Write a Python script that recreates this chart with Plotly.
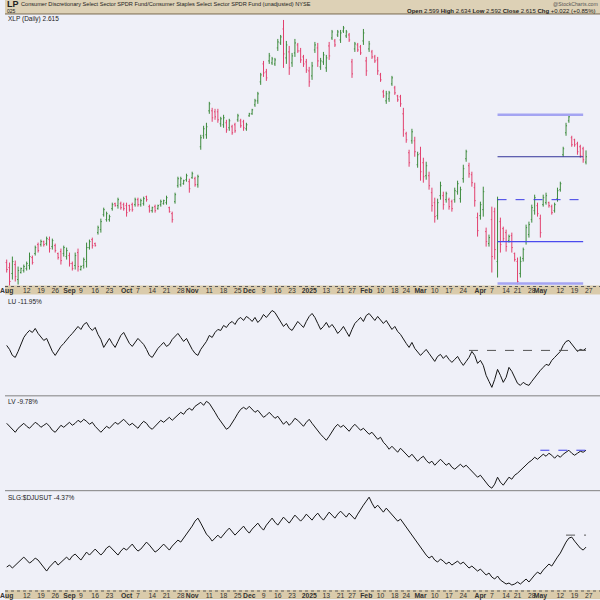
import pandas as pd
import plotly.graph_objects as go

# ---------------- data ----------------
holidays = ["2024-09-02", "2024-11-28", "2024-12-25", "2025-01-01", "2025-01-09",
            "2025-01-20", "2025-02-17", "2025-04-18"]
trading_days = [d.strftime("%Y-%m-%d") for d in pd.bdate_range("2024-08-01", "2025-05-23")
                if d.strftime("%Y-%m-%d") not in holidays]

opens = [2.297, 2.282, 2.264, 2.291, 2.246, 2.267, 2.273, 2.279, 2.288, 2.312,
         2.324, 2.351, 2.351, 2.360, 2.354, 2.366, 2.345, 2.348, 2.324, 2.330,
         2.324, 2.315, 2.318, 2.294, 2.288, 2.327, 2.276, 2.288, 2.300, 2.342,
         2.366, 2.354, 2.387, 2.396, 2.441, 2.426, 2.426, 2.459, 2.474, 2.468,
         2.474, 2.471, 2.468, 2.468, 2.471, 2.471, 2.486, 2.471, 2.474, 2.495,
         2.465, 2.453, 2.465, 2.459, 2.471, 2.474, 2.477, 2.462, 2.444, 2.480,
         2.528, 2.531, 2.534, 2.546, 2.540, 2.552, 2.549, 2.531, 2.645, 2.678,
         2.681, 2.753, 2.753, 2.750, 2.750, 2.714, 2.711, 2.717, 2.702, 2.705,
         2.711, 2.726, 2.723, 2.720, 2.699, 2.738, 2.744, 2.771, 2.783, 2.840,
         2.894, 2.870, 2.903, 2.897, 2.894, 2.942, 2.957, 2.999, 2.912, 2.930,
         2.897, 2.927, 2.951, 2.933, 2.915, 2.900, 2.873, 2.858, 2.936, 2.942,
         2.885, 2.900, 2.882, 2.948, 2.972, 2.963, 2.981, 2.966, 2.993, 2.978,
         2.981, 2.900, 2.939, 2.951, 2.945, 2.963, 2.903, 2.939, 2.930, 2.915,
         2.906, 2.861, 2.810, 2.783, 2.789, 2.834, 2.822, 2.798, 2.795, 2.744,
         2.684, 2.627, 2.663, 2.663, 2.591, 2.624, 2.597, 2.558, 2.558, 2.507,
         2.477, 2.438, 2.498, 2.498, 2.486, 2.486, 2.480, 2.486, 2.510, 2.489,
         2.549, 2.609, 2.588, 2.561, 2.522, 2.432, 2.438, 2.456, 2.390, 2.354,
         2.426, 2.450, 2.300, 2.420, 2.399, 2.387, 2.363, 2.378, 2.324, 2.300,
         2.264, 2.309, 2.360, 2.381, 2.426, 2.453, 2.468, 2.429, 2.471, 2.477,
         2.477, 2.465, 2.453, 2.489, 2.516, 2.621, 2.687, 2.723, 2.672, 2.666,
         2.654, 2.645, 2.639, 2.599]
highs = [2.306, 2.297, 2.315, 2.303, 2.285, 2.282, 2.291, 2.300, 2.327, 2.318,
         2.348, 2.357, 2.366, 2.363, 2.375, 2.375, 2.369, 2.354, 2.327, 2.339,
         2.348, 2.342, 2.327, 2.300, 2.327, 2.339, 2.288, 2.312, 2.357, 2.366,
         2.372, 2.357, 2.408, 2.429, 2.462, 2.450, 2.441, 2.477, 2.477, 2.492,
         2.480, 2.477, 2.477, 2.471, 2.477, 2.492, 2.492, 2.489, 2.495, 2.498,
         2.471, 2.465, 2.471, 2.471, 2.486, 2.486, 2.498, 2.465, 2.450, 2.507,
         2.555, 2.555, 2.546, 2.564, 2.549, 2.570, 2.555, 2.561, 2.681, 2.708,
         2.717, 2.780, 2.762, 2.759, 2.759, 2.735, 2.741, 2.726, 2.729, 2.711,
         2.717, 2.744, 2.729, 2.726, 2.717, 2.747, 2.759, 2.789, 2.810, 2.867,
         2.903, 2.879, 2.927, 2.915, 2.912, 2.969, 2.981, 3.026, 2.963, 2.948,
         2.927, 2.969, 2.957, 2.942, 2.921, 2.909, 2.885, 2.900, 2.960, 2.957,
         2.912, 2.930, 2.921, 2.960, 2.996, 2.969, 2.996, 2.996, 3.008, 2.996,
         2.987, 2.909, 2.960, 2.957, 2.951, 2.999, 2.915, 2.963, 2.936, 2.921,
         2.915, 2.867, 2.816, 2.813, 2.813, 2.858, 2.828, 2.801, 2.801, 2.762,
         2.690, 2.636, 2.699, 2.675, 2.630, 2.645, 2.612, 2.600, 2.570, 2.522,
         2.492, 2.489, 2.540, 2.510, 2.510, 2.492, 2.486, 2.522, 2.543, 2.525,
         2.591, 2.636, 2.597, 2.570, 2.537, 2.447, 2.480, 2.525, 2.402, 2.381,
         2.465, 2.462, 2.495, 2.432, 2.405, 2.396, 2.381, 2.387, 2.327, 2.312,
         2.315, 2.342, 2.411, 2.420, 2.471, 2.501, 2.477, 2.441, 2.501, 2.507,
         2.480, 2.471, 2.477, 2.522, 2.540, 2.645, 2.717, 2.741, 2.678, 2.669,
         2.660, 2.651, 2.645, 2.634]
lows = [2.267, 2.222, 2.246, 2.240, 2.231, 2.264, 2.267, 2.273, 2.276, 2.291,
        2.318, 2.327, 2.345, 2.345, 2.348, 2.327, 2.336, 2.327, 2.306, 2.291,
        2.315, 2.306, 2.285, 2.273, 2.276, 2.270, 2.273, 2.279, 2.282, 2.336,
        2.339, 2.345, 2.381, 2.387, 2.435, 2.420, 2.420, 2.453, 2.465, 2.459,
        2.456, 2.453, 2.435, 2.450, 2.450, 2.465, 2.465, 2.465, 2.468, 2.480,
        2.447, 2.447, 2.447, 2.456, 2.465, 2.471, 2.471, 2.447, 2.417, 2.474,
        2.522, 2.525, 2.531, 2.540, 2.507, 2.549, 2.525, 2.522, 2.636, 2.669,
        2.669, 2.744, 2.720, 2.726, 2.717, 2.705, 2.702, 2.687, 2.693, 2.681,
        2.687, 2.720, 2.702, 2.693, 2.693, 2.735, 2.741, 2.765, 2.774, 2.831,
        2.855, 2.843, 2.894, 2.891, 2.888, 2.933, 2.951, 2.882, 2.894, 2.861,
        2.885, 2.915, 2.927, 2.897, 2.885, 2.867, 2.825, 2.846, 2.927, 2.885,
        2.876, 2.891, 2.870, 2.906, 2.966, 2.945, 2.975, 2.957, 2.987, 2.972,
        2.960, 2.852, 2.930, 2.930, 2.921, 2.951, 2.858, 2.930, 2.909, 2.897,
        2.861, 2.840, 2.792, 2.774, 2.780, 2.828, 2.801, 2.780, 2.765, 2.675,
        2.657, 2.585, 2.654, 2.615, 2.582, 2.543, 2.537, 2.546, 2.516, 2.450,
        2.417, 2.426, 2.486, 2.456, 2.477, 2.456, 2.450, 2.477, 2.501, 2.477,
        2.537, 2.600, 2.552, 2.525, 2.465, 2.375, 2.426, 2.435, 2.345, 2.345,
        2.267, 2.306, 2.252, 2.327, 2.360, 2.330, 2.357, 2.327, 2.300, 2.231,
        2.252, 2.300, 2.351, 2.372, 2.417, 2.441, 2.435, 2.372, 2.465, 2.471,
        2.462, 2.441, 2.447, 2.480, 2.510, 2.615, 2.678, 2.717, 2.645, 2.645,
        2.621, 2.612, 2.597, 2.592]
closes = [2.276, 2.240, 2.300, 2.255, 2.273, 2.279, 2.285, 2.294, 2.315, 2.297,
          2.342, 2.333, 2.360, 2.351, 2.369, 2.339, 2.363, 2.333, 2.312, 2.303,
          2.342, 2.333, 2.294, 2.279, 2.318, 2.285, 2.285, 2.306, 2.342, 2.360,
          2.348, 2.348, 2.402, 2.420, 2.456, 2.444, 2.435, 2.471, 2.468, 2.486,
          2.462, 2.459, 2.447, 2.456, 2.456, 2.486, 2.471, 2.483, 2.489, 2.486,
          2.453, 2.462, 2.453, 2.468, 2.480, 2.483, 2.492, 2.450, 2.426, 2.501,
          2.549, 2.549, 2.543, 2.558, 2.519, 2.564, 2.531, 2.555, 2.672, 2.699,
          2.705, 2.774, 2.732, 2.735, 2.726, 2.729, 2.732, 2.696, 2.723, 2.687,
          2.693, 2.738, 2.708, 2.702, 2.711, 2.744, 2.756, 2.783, 2.804, 2.861,
          2.867, 2.852, 2.918, 2.909, 2.906, 2.960, 2.975, 2.924, 2.951, 2.882,
          2.918, 2.957, 2.933, 2.906, 2.894, 2.876, 2.840, 2.888, 2.951, 2.903,
          2.903, 2.921, 2.912, 2.918, 2.990, 2.951, 2.990, 2.987, 3.002, 2.990,
          2.966, 2.864, 2.954, 2.936, 2.927, 2.987, 2.873, 2.954, 2.915, 2.903,
          2.873, 2.846, 2.798, 2.804, 2.807, 2.852, 2.807, 2.786, 2.774, 2.696,
          2.666, 2.597, 2.690, 2.630, 2.621, 2.570, 2.555, 2.588, 2.528, 2.468,
          2.435, 2.477, 2.528, 2.471, 2.504, 2.465, 2.459, 2.513, 2.534, 2.516,
          2.579, 2.630, 2.564, 2.537, 2.483, 2.393, 2.471, 2.510, 2.360, 2.372,
          2.315, 2.336, 2.486, 2.351, 2.369, 2.345, 2.375, 2.342, 2.306, 2.240,
          2.300, 2.336, 2.402, 2.411, 2.462, 2.492, 2.444, 2.387, 2.492, 2.498,
          2.468, 2.447, 2.471, 2.513, 2.534, 2.639, 2.708, 2.735, 2.651, 2.651,
          2.630, 2.618, 2.606, 2.615]

ratio_lu = [1.50, 1.46, 1.40, 1.38, 1.44, 1.51, 1.58, 1.62, 1.65, 1.63,
            1.67, 1.62, 1.58, 1.55, 1.57, 1.50, 1.44, 1.40, 1.45, 1.49,
            1.52, 1.56, 1.59, 1.62, 1.66, 1.69, 1.66, 1.71, 1.73, 1.68,
            1.65, 1.68, 1.61, 1.56, 1.48, 1.53, 1.57, 1.52, 1.48, 1.54,
            1.60, 1.63, 1.58, 1.52, 1.49, 1.53, 1.57, 1.54, 1.51, 1.46,
            1.40, 1.38, 1.43, 1.47, 1.50, 1.53, 1.49, 1.51, 1.56, 1.59,
            1.62, 1.58, 1.54, 1.57, 1.51, 1.46, 1.42, 1.40, 1.46, 1.50,
            1.54, 1.60, 1.58, 1.63, 1.66, 1.65, 1.70, 1.68, 1.72, 1.74,
            1.71, 1.76, 1.78, 1.75, 1.79, 1.77, 1.74, 1.78, 1.73, 1.76,
            1.81, 1.78, 1.82, 1.85, 1.83, 1.78, 1.74, 1.69, 1.72, 1.67,
            1.65, 1.70, 1.74, 1.71, 1.68, 1.74, 1.79, 1.82, 1.78, 1.72,
            1.66, 1.69, 1.73, 1.68, 1.71, 1.67, 1.62, 1.65, 1.69, 1.64,
            1.59, 1.66, 1.72, 1.75, 1.78, 1.74, 1.80, 1.82, 1.78, 1.75,
            1.79, 1.76, 1.72, 1.75, 1.70, 1.66, 1.69, 1.64, 1.61, 1.56,
            1.52, 1.48, 1.53, 1.47, 1.44, 1.40, 1.43, 1.46, 1.42, 1.38,
            1.34, 1.39, 1.41, 1.37, 1.40, 1.36, 1.33, 1.36, 1.39, 1.34,
            1.30, 1.34, 1.38, 1.44, 1.40, 1.32, 1.35, 1.30, 1.20, 1.14,
            1.08, 1.16, 1.26, 1.20, 1.13, 1.18, 1.28, 1.24, 1.18, 1.12,
            1.10, 1.13, 1.11, 1.10, 1.14, 1.18, 1.22, 1.25, 1.28, 1.31,
            1.30, 1.35, 1.38, 1.41, 1.44, 1.50, 1.54, 1.55, 1.51, 1.47,
            1.44, 1.46, 1.45, 1.47]
ratio_lv = [1.67, 1.64, 1.60, 1.58, 1.62, 1.65, 1.67, 1.64, 1.62, 1.65,
            1.68, 1.66, 1.63, 1.65, 1.67, 1.64, 1.60, 1.58, 1.62, 1.65,
            1.63, 1.66, 1.68, 1.65, 1.67, 1.70, 1.68, 1.71, 1.69, 1.66,
            1.68, 1.64, 1.61, 1.58, 1.61, 1.64, 1.62, 1.65, 1.68, 1.66,
            1.69, 1.71, 1.68, 1.65, 1.67, 1.64, 1.62, 1.66, 1.69, 1.67,
            1.63, 1.61, 1.64, 1.67, 1.70, 1.68, 1.71, 1.73, 1.70, 1.73,
            1.76, 1.78, 1.76, 1.80, 1.82, 1.80, 1.84, 1.86, 1.88, 1.85,
            1.89, 1.87, 1.83, 1.78, 1.73, 1.69, 1.65, 1.61, 1.63, 1.67,
            1.72, 1.77, 1.81, 1.83, 1.81, 1.84, 1.81, 1.78, 1.80, 1.77,
            1.73, 1.75, 1.78, 1.75, 1.72, 1.74, 1.70, 1.66, 1.69, 1.65,
            1.68, 1.72, 1.70, 1.67, 1.64, 1.68, 1.71, 1.67, 1.63, 1.60,
            1.56, 1.53, 1.50, 1.54, 1.59, 1.63, 1.66, 1.63, 1.65, 1.62,
            1.59, 1.63, 1.66, 1.63, 1.60, 1.62, 1.59, 1.56, 1.58, 1.54,
            1.51, 1.53, 1.48, 1.45, 1.41, 1.44, 1.41, 1.38, 1.42, 1.39,
            1.35, 1.33, 1.36, 1.32, 1.29, 1.32, 1.34, 1.30, 1.27, 1.29,
            1.25, 1.28, 1.31, 1.28, 1.25, 1.27, 1.23, 1.21, 1.24, 1.26,
            1.23, 1.25, 1.22, 1.19, 1.16, 1.13, 1.15, 1.11, 1.07, 1.04,
            1.02, 1.06, 1.13, 1.08, 1.05, 1.09, 1.13, 1.11, 1.15, 1.17,
            1.20, 1.23, 1.25, 1.28, 1.30, 1.33, 1.31, 1.34, 1.36, 1.34,
            1.37, 1.35, 1.32, 1.35, 1.33, 1.36, 1.38, 1.40, 1.37, 1.35,
            1.37, 1.39, 1.38, 1.40]
ratio_ut = [1.23, 1.25, 1.22, 1.25, 1.28, 1.30, 1.33, 1.30, 1.27, 1.29,
            1.32, 1.30, 1.26, 1.22, 1.19, 1.23, 1.26, 1.29, 1.25, 1.28,
            1.31, 1.33, 1.30, 1.34, 1.36, 1.33, 1.30, 1.34, 1.38, 1.35,
            1.38, 1.41, 1.38, 1.35, 1.38, 1.42, 1.44, 1.41, 1.38, 1.35,
            1.39, 1.42, 1.40, 1.43, 1.46, 1.42, 1.39, 1.41, 1.45, 1.48,
            1.45, 1.41, 1.38, 1.40, 1.43, 1.46, 1.43, 1.40, 1.44, 1.47,
            1.50, 1.48, 1.52, 1.55, 1.60, 1.64, 1.69, 1.72, 1.67, 1.62,
            1.56, 1.53, 1.49, 1.52, 1.55, 1.52, 1.56, 1.59, 1.62, 1.59,
            1.55, 1.58, 1.61, 1.64, 1.60, 1.57, 1.61, 1.64, 1.67, 1.63,
            1.60, 1.65, 1.69, 1.72, 1.68, 1.65, 1.69, 1.73, 1.70, 1.67,
            1.71, 1.75, 1.72, 1.69, 1.72, 1.76, 1.73, 1.70, 1.74, 1.77,
            1.73, 1.70, 1.74, 1.78, 1.75, 1.72, 1.76, 1.79, 1.76, 1.73,
            1.77, 1.74, 1.71, 1.76, 1.81, 1.85, 1.89, 1.93, 1.87, 1.82,
            1.85, 1.81, 1.78, 1.82, 1.79, 1.75, 1.72, 1.69, 1.71, 1.67,
            1.63, 1.59, 1.55, 1.50, 1.46, 1.42, 1.38, 1.35, 1.32, 1.34,
            1.30, 1.28, 1.31, 1.29, 1.26, 1.28, 1.25, 1.27, 1.29, 1.26,
            1.28, 1.25, 1.22, 1.24, 1.21, 1.19, 1.21, 1.18, 1.15, 1.17,
            1.13, 1.11, 1.14, 1.10, 1.08, 1.06, 1.07, 1.05, 1.06, 1.08,
            1.06, 1.09, 1.11, 1.08, 1.12, 1.15, 1.18, 1.16, 1.20, 1.23,
            1.26, 1.24, 1.29, 1.33, 1.37, 1.43, 1.48, 1.52, 1.53, 1.49,
            1.45, 1.42, 1.40, 1.43]

# horizontal levels drawn on the price panel (value, start day, end day)
price_levels = [2.741, 2.615, 2.486, 2.360, 2.234]
price_level_start = "2025-04-09"
price_level_end = "2025-05-22"
lu_level, lu_level_start = 1.45, "2025-03-26"
lv_level, lv_level_start = 1.40, "2025-05-01"
ut_level, ut_level_start = 1.55, "2025-05-14"

tick_dates = ["2024-08-01", "2024-08-12", "2024-08-19", "2024-08-26", "2024-09-03", "2024-09-09",
              "2024-09-16", "2024-09-23", "2024-10-01", "2024-10-07", "2024-10-14", "2024-10-21",
              "2024-10-28", "2024-11-01", "2024-11-11", "2024-11-18", "2024-11-25", "2024-12-02",
              "2024-12-09", "2024-12-16", "2024-12-23", "2025-01-02", "2025-01-13", "2025-01-21",
              "2025-01-27", "2025-02-03", "2025-02-10", "2025-02-18", "2025-02-24", "2025-03-03",
              "2025-03-10", "2025-03-17", "2025-03-24", "2025-04-01", "2025-04-07", "2025-04-14",
              "2025-04-21", "2025-04-28", "2025-05-01", "2025-05-12", "2025-05-19", "2025-05-27"]
tick_labels = ["Aug", "12", "19", "26", "Sep", "9", "16", "23", "Oct", "7", "14", "21", "28",
               "Nov", "11", "18", "25", "Dec", "9", "16", "23", "2025", "13", "21", "27", "Feb",
               "10", "18", "24", "Mar", "10", "17", "24", "Apr", "7", "14", "21", "28", "May",
               "12", "19", "27"]

# ---------------- figure ----------------
n = len(closes)
xs = list(range(n))
day_pos = {d: i for i, d in enumerate(trading_days[:n])}
day_pos["2025-05-27"] = n
tickvals = [day_pos[d] for d in tick_dates]
ticktext = [("<b>%s</b>" % t) if (not t.isdigit() or t == "2025") else t for t in tick_labels]

BG = "#eff0f8"
BAND = "#dacbab"
GREEN = "#3c8a3c"
RED = "#e2406e"
FONT = "Liberation Sans"

W, H = 600, 600
def py(pix):
    return 1 - pix / H

XR = [-0.59, 207.9]

fig = go.Figure()
fig.add_trace(go.Ohlc(x=xs, open=opens, high=highs, low=lows, close=closes,
                      increasing=dict(line=dict(color=GREEN, width=1)),
                      decreasing=dict(line=dict(color=RED, width=1)),
                      tickwidth=0.35, xaxis="x", yaxis="y", showlegend=False, hoverinfo="skip"))
for series, ax in [(ratio_lu, "2"), (ratio_lv, "3"), (ratio_ut, "4")]:
    fig.add_trace(go.Scatter(x=xs, y=series, mode="lines", line=dict(color="#151515", width=1),
                             xaxis="x" + ax, yaxis="y" + ax, showlegend=False, hoverinfo="skip"))

tickfont = dict(family=FONT, size=6.8, color="#333333")
common_x = dict(range=XR, showgrid=False, zeroline=False, showline=False, ticks="",
                fixedrange=True, tickangle=0, ticklabeloverflow="allow")
common_y = dict(showgrid=False, zeroline=False, showline=False, showticklabels=False, ticks="",
                fixedrange=True)

fig.update_layout(
    width=W, height=H, margin=dict(l=0, r=0, t=0, b=0),
    paper_bgcolor=BG, plot_bgcolor=BG, showlegend=False,
    xaxis=dict(domain=[0, 1], anchor="y", tickvals=tickvals, ticktext=ticktext,
               tickfont=tickfont, rangeslider=dict(visible=False), **common_x),
    xaxis2=dict(domain=[0, 1], anchor="y2", showticklabels=False, **common_x),
    xaxis3=dict(domain=[0, 1], anchor="y3", showticklabels=False, **common_x),
    xaxis4=dict(domain=[0, 1], anchor="y4", tickvals=tickvals, ticktext=ticktext,
                tickfont=tickfont, **common_x),
    yaxis=dict(domain=[py(286), py(15)], range=[2.228, 3.041], **common_y),
    yaxis2=dict(domain=[py(396), py(295)], range=[1.00, 2.01], **common_y),
    yaxis3=dict(domain=[py(491), py(397)], range=[1.00, 1.94], **common_y),
    yaxis4=dict(domain=[py(591), py(492)], range=[1.00, 1.99], **common_y),
)

shapes = []
# header band
shapes.append(dict(type="rect", xref="paper", yref="paper", x0=0, x1=1, y0=py(14), y1=1,
                   fillcolor="#ddd1b6", line=dict(width=0), layer="below"))
shapes.append(dict(type="line", xref="paper", yref="paper", x0=0, x1=1, y0=py(14), y1=py(14),
                   line=dict(color="#7a6a50", width=1)))
# date bands
for top, bot in [(286, 295), (591, 600)]:
    shapes.append(dict(type="rect", xref="paper", yref="paper", x0=0, x1=1, y0=py(bot), y1=py(top),
                       fillcolor=BAND, line=dict(width=0), layer="below"))
    shapes.append(dict(type="line", xref="paper", yref="paper", x0=0, x1=1,
                       y0=py(top + 1), y1=py(top + 1), line=dict(color="#5a5a5a", width=1, dash="dot")))
# panel separators
for pix in [396.5, 491.5]:
    shapes.append(dict(type="line", xref="paper", yref="paper", x0=0, x1=1, y0=py(pix), y1=py(pix),
                       line=dict(color="#808080", width=1)))

# price levels
lvl_styles = [dict(color="#a4a4f2", width=2.5), dict(color="#34349a", width=1),
              dict(color="#3c3ce6", width=1, dash="dash"), dict(color="#4a4aee", width=1.2),
              dict(color="#a4a4f2", width=2.5)]
x0l, x1l = day_pos[price_level_start], day_pos[price_level_end]
for v, st in zip(price_levels, lvl_styles):
    shapes.append(dict(type="line", xref="x", yref="y", x0=x0l, x1=x1l, y0=v, y1=v, line=st))
shapes.append(dict(type="line", xref="x2", yref="y2", x0=day_pos[lu_level_start], x1=n - 1,
                   y0=lu_level, y1=lu_level, line=dict(color="#555555", width=1, dash="dash")))
shapes.append(dict(type="line", xref="x3", yref="y3", x0=day_pos[lv_level_start], x1=n - 1,
                   y0=lv_level, y1=lv_level, line=dict(color="#3c3ce6", width=1, dash="dash")))
shapes.append(dict(type="line", xref="x4", yref="y4", x0=day_pos[ut_level_start], x1=n - 1,
                   y0=ut_level, y1=ut_level, line=dict(color="#555555", width=1, dash="dash")))
fig.update_layout(shapes=shapes)

def ann(text, xpix, ypix, size, anchor="left", color="#222222", family=FONT):
    return dict(text=text, xref="paper", yref="paper", x=xpix / W, y=py(ypix),
                xanchor=anchor, yanchor="middle", showarrow=False,
                font=dict(family=family, size=size, color=color))

annotations = [
    ann("<b>LP</b>", 0, 4.5, 9),
    ann("Consumer Discretionary Select Sector SPDR Fund/Consumer Staples Select Sector SPDR Fund (unadjusted) NYSE",
        14, 4.5, 5.6),
    ann("025", 0, 11.5, 5),
    ann("@StockCharts.com", 600, 4, 5.2, anchor="right", color="#555555"),
    ann("<b>Open</b> 2.599 <b>High</b> 2.634 <b>Low</b> 2.592 <b>Close</b> 2.615 <b>Chg</b> +0.022 (+0.85%)",
        598, 11, 6, anchor="right"),
    ann("XLP (Daily) 2.615", 1, 19.5, 6.5),
    ann("LU -11.95%", 1, 302, 6.5),
    ann("LV -9.78%", 1, 402, 6.5),
    ann("SLG:$DJUSUT -4.37%", 1, 498, 6.5),
]
fig.update_layout(annotations=annotations)

fig.write_html("out.html", config={"displayModeBar": False, "staticPlot": True},
               post_script="document.body.style.margin='0px';document.body.style.overflow='hidden';")
